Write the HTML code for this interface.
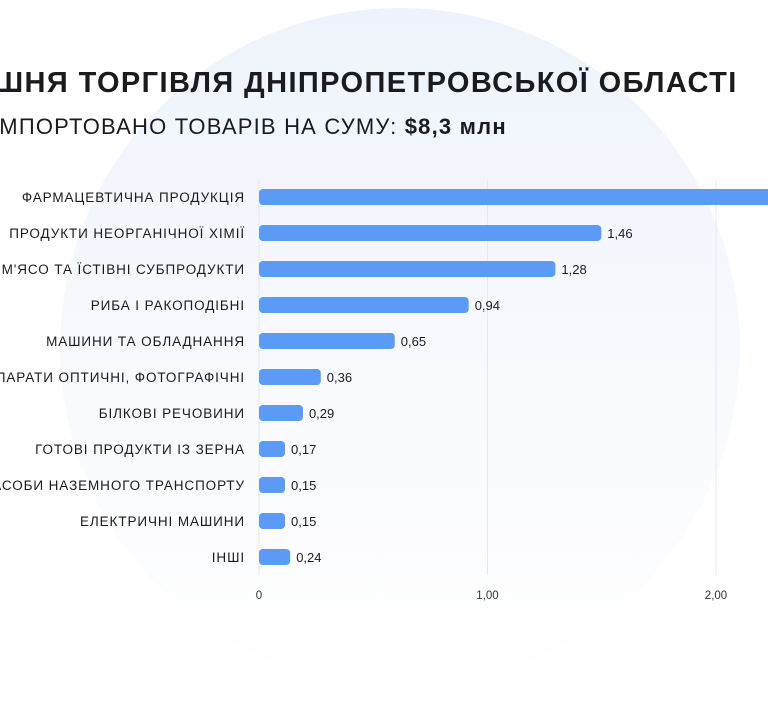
<!DOCTYPE html>
<html><head><meta charset="utf-8"><style>
body{margin:0;width:768px;height:720px;overflow:hidden;background:#fff;font-family:"Liberation Sans","DejaVu Sans",sans-serif;position:relative}
.bg{position:absolute;left:60px;top:8px;width:680px;height:680px;border-radius:50%;background:linear-gradient(180deg,#eef3fb 0%,#f5f8fd 40%,#fbfcfe 75%,#ffffff 100%)}
.t{position:absolute;white-space:nowrap;color:#1b1b1f}
</style></head><body>
<div class="bg"></div>
<div class="t" style="left:-6px;top:67px;font-size:29px;font-weight:bold;letter-spacing:1.4px">ШНЯ ТОРГІВЛЯ ДНІПРОПЕТРОВСЬКОЇ ОБЛАСТІ</div>
<div class="t" style="left:-8px;top:114px;font-size:22px;letter-spacing:1.2px">ІМПОРТОВАНО ТОВАРІВ НА СУМУ: <b>$8,3 млн</b></div>
<svg id="c" width="768" height="720" style="position:absolute;left:0;top:0"></svg>
<script>
const categories=["ФАРМАЦЕВТИЧНА ПРОДУКЦІЯ","ПРОДУКТИ НЕОРГАНІЧНОЇ ХІМІЇ","М'ЯСО ТА ЇСТІВНІ СУБПРОДУКТИ","РИБА І РАКОПОДІБНІ","МАШИНИ ТА ОБЛАДНАННЯ","АПАРАТИ ОПТИЧНІ, ФОТОГРАФІЧНІ","БІЛКОВІ РЕЧОВИНИ","ГОТОВІ ПРОДУКТИ ІЗ ЗЕРНА","ЗАСОБИ НАЗЕМНОГО ТРАНСПОРТУ","ЕЛЕКТРИЧНІ МАШИНИ","ІНШІ"];
const values=[2.61,1.46,1.28,0.94,0.65,0.36,0.29,0.17,0.15,0.15,0.24];
const valueLabels=["2,61","1,46","1,28","0,94","0,65","0,36","0,29","0,17","0,15","0,15","0,24"];
const ticks=[0,1,2,3];
const tickLabels=["0","1,00","2,00","3,00"];
const svg=document.getElementById('c');const NS="http://www.w3.org/2000/svg";
const x=v=>259+v*228.5;const y=i=>197+i*36;
const bw=v=>Math.max(255*v-30,26);
function mk(t,a,txt){const e=document.createElementNS(NS,t);for(const k in a)e.setAttribute(k,a[k]);if(txt!=null)e.textContent=txt;svg.appendChild(e);return e;}
ticks.forEach((t,i)=>{
 const g=mk('line',{x1:x(t),x2:x(t),y1:180,y2:575,stroke:'#e6e9ef','stroke-width':1});
 
 
 const l=mk('text',{x:x(t),y:599,'text-anchor':'middle','font-size':11.5,fill:'#333','font-family':'Liberation Sans, sans-serif'},tickLabels[i]);
 
 
});
categories.forEach((c,i)=>{
 const l=mk('text',{x:245,y:y(i)+5,'text-anchor':'end','font-size':13.5,fill:'#1b1b1f','font-family':'Liberation Sans, sans-serif','letter-spacing':'0.9'},c);
 
 
 const w=bw(values[i]);
 const b=mk('rect',{x:259,y:y(i)-8,width:w,height:16,rx:4,fill:'#5b9bf5'});
 
 
 const v=mk('text',{x:259+w+6,y:y(i)+5,'font-size':13,fill:'#1b1b1f','font-family':'Liberation Sans, sans-serif'},valueLabels[i]);
 
 
});
</script>
</body></html>
